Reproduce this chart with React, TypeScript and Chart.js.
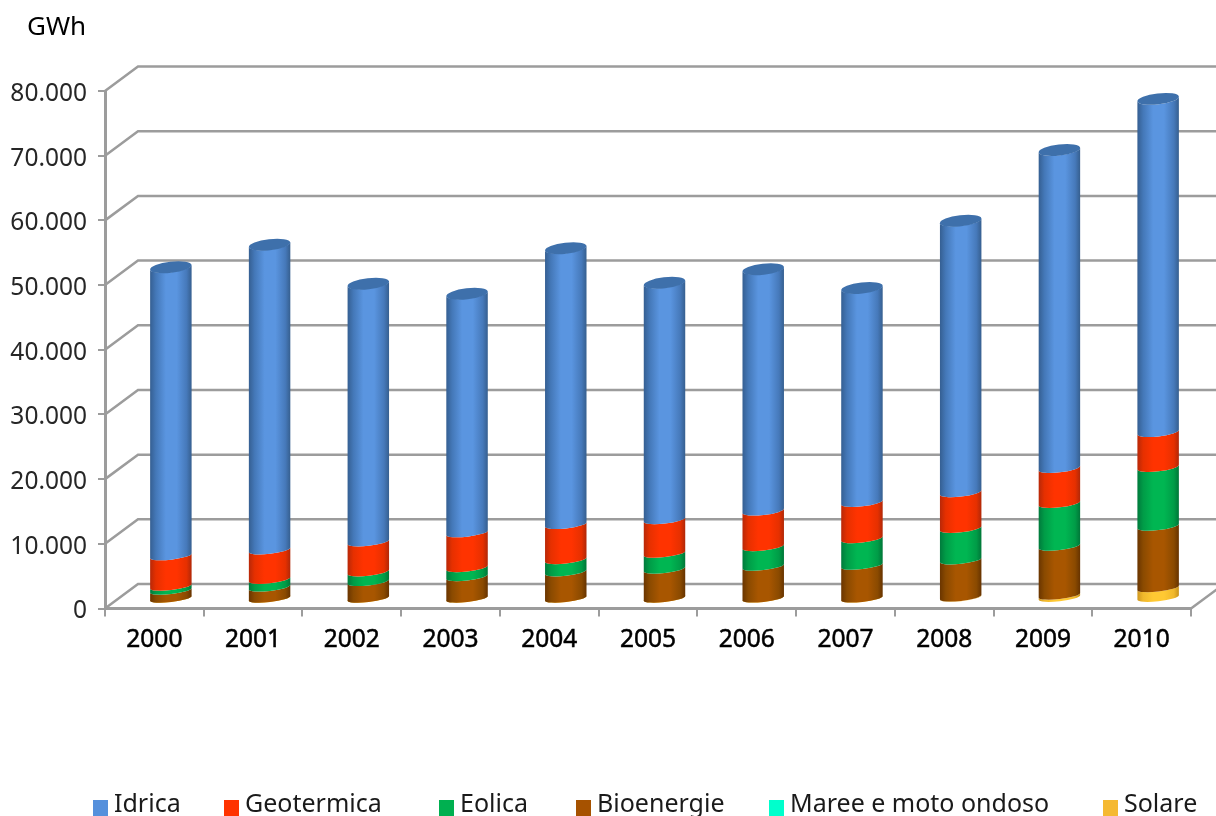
import React, { useEffect, useRef } from "react";
import { Chart, registerables } from "chart.js";

Chart.register(...registerables);

const years = ["2000", "2001", "2002", "2003", "2004", "2005", "2006", "2007", "2008", "2009", "2010"];
const idrica = [44600, 47190, 39890, 36940, 42710, 36590, 37370, 33130, 42000, 49190, 51530];
const geotermica = [4710, 4560, 4660, 5400, 5440, 5220, 5520, 5630, 5540, 5420, 5410];
const eolica = [620, 1190, 1500, 1390, 1900, 2460, 3030, 4110, 4900, 6640, 9120];
const bioenergie = [1250, 1730, 2580, 3340, 4070, 4500, 4940, 5090, 5750, 7580, 9530];
const maree = [0, 0, 0, 0, 0, 0, 0, 0, 0, 0, 0];
const solare = [20, 20, 20, 30, 30, 30, 40, 40, 200, 500, 1650];

const FONT = '"Noto Sans", sans-serif';
const GRID = "#9c9c9c";
const DEPTH_X = 33;
const DEPTH_Y = 24.5;
const BAR_SHIFT_X = 16.5;
const BAR_SHIFT_Y = 10;
const TILT = (6.5 * Math.PI) / 180;
const CAP_RY = 5.5;

// left edge, mid-left, light centre, mid-right, right edge
const shades: Record<string, string[]> = {
  Idrica: ["#355f92", "#4478b8", "#5a95e0", "#4679ba", "#365f8f"],
  Geotermica: ["#b82808", "#e63000", "#ff3300", "#e63000", "#b02808"],
  Eolica: ["#007a3c", "#009c47", "#00b652", "#009c47", "#007638"],
  Bioenergie: ["#6a3500", "#8a4a00", "#a85600", "#8a4a00", "#663300"],
  "Maree e moto ondoso": ["#00c09a", "#00e8ba", "#00ffcc", "#00e8ba", "#00b090"],
  Solare: ["#d09820", "#f0b82c", "#ffc933", "#f0b82c", "#c8921c"],
};
const topCap = "#3e70ab";

const legendX = [93, 224, 439, 576, 769, 1103];

// the cylinders show more of their ellipse the higher they stand
const ellipseHeight = (py: number) => 3.7 + (1.8 * Math.max(0, 598 - py)) / 500;

const scene = {
  id: "scene",
  beforeDatasetsDraw(chart: any) {
    const { ctx, chartArea, scales } = chart;
    const { left, right } = chartArea;
    const y = scales.y;
    ctx.save();
    ctx.strokeStyle = GRID;
    ctx.lineWidth = 2.5;
    (y.ticks as any[]).forEach((t) => {
      const py = y.getPixelForValue(t.value);
      ctx.beginPath();
      ctx.moveTo(left, py);
      ctx.lineTo(left + DEPTH_X, py - DEPTH_Y);
      ctx.lineTo(right + 30, py - DEPTH_Y);
      ctx.stroke();
    });
    const py0 = y.getPixelForValue(0);
    ctx.beginPath();
    ctx.moveTo(right, py0);
    ctx.lineTo(right + DEPTH_X, py0 - DEPTH_Y);
    ctx.stroke();
    ctx.restore();

    const metas = chart.getSortedVisibleDatasetMetas();
    const rx = (w: number) => w / 2 / Math.cos(TILT);
    metas.forEach((meta: any) => {
      const name = chart.data.datasets[meta.index].label as string;
      const c = shades[name];
      meta.data.forEach((el: any) => {
        const { x, y: top, base, width } = el.getProps(["x", "y", "base", "width"], true);
        if (Math.abs(base - top) < 0.01) return;
        const cx = x + BAR_SHIFT_X;
        const yt = top - BAR_SHIFT_Y;
        const yb = base - BAR_SHIFT_Y;
        const r = rx(width);
        const g = ctx.createLinearGradient(cx - width / 2, 0, cx + width / 2, 0);
        g.addColorStop(0, c[0]);
        g.addColorStop(0.14, c[1]);
        g.addColorStop(0.38, c[2]);
        g.addColorStop(0.64, c[2]);
        g.addColorStop(0.88, c[3]);
        g.addColorStop(1, c[4]);
        ctx.save();
        ctx.fillStyle = g;
        ctx.beginPath();
        ctx.ellipse(cx, yt, r, ellipseHeight(yt), -TILT, Math.PI, 0, true);
        ctx.ellipse(cx, yb, r, ellipseHeight(yb), -TILT, 0, Math.PI, false);
        ctx.closePath();
        ctx.fill();
        ctx.restore();
      });
    });
    // top cap of the uppermost series
    const last = metas[metas.length - 1];
    last.data.forEach((el: any) => {
      const { x, y: top, width } = el.getProps(["x", "y", "width"], true);
      const yt = top - BAR_SHIFT_Y;
      ctx.save();
      ctx.fillStyle = topCap;
      ctx.beginPath();
      ctx.ellipse(x + BAR_SHIFT_X, yt, rx(width), CAP_RY, -TILT, 0, Math.PI * 2);
      ctx.fill();
      ctx.restore();
    });
    return false;
  },
  afterDraw(chart: any) {
    const { ctx } = chart;
    ctx.save();
    ctx.textBaseline = "alphabetic";
    ctx.textAlign = "left";
    ctx.fillStyle = "#000";
    ctx.font = `26px ${FONT}`;
    ctx.fillText("GWh", 27, 35);
    const items = [...chart.data.datasets].reverse();
    items.forEach((ds: any, i: number) => {
      ctx.fillStyle = ds.backgroundColor;
      ctx.fillRect(legendX[i], 800, 15, 16);
      ctx.fillStyle = "#1a1a1a";
      ctx.font = `25px ${FONT}`;
      ctx.fillText(ds.label, legendX[i] + 21, 812);
    });
    ctx.restore();
  },
};

export default function App() {
  const ref = useRef<HTMLCanvasElement>(null);
  useEffect(() => {
    document.body.style.margin = "0";
    const chart = new Chart(ref.current!, {
      type: "bar",
      data: {
        labels: years,
        datasets: [
          { label: "Solare", data: solare, backgroundColor: "#f5b932" },
          { label: "Maree e moto ondoso", data: maree, backgroundColor: "#00ffcc" },
          { label: "Bioenergie", data: bioenergie, backgroundColor: "#a65200" },
          { label: "Eolica", data: eolica, backgroundColor: "#00b050" },
          { label: "Geotermica", data: geotermica, backgroundColor: "#ff3300" },
          { label: "Idrica", data: idrica, backgroundColor: "#5590dc" },
        ],
      },
      options: {
        responsive: false,
        animation: false,
        layout: { padding: { top: 91, right: 25, bottom: 0, left: 0 } },
        plugins: { legend: { display: false }, tooltip: { enabled: false } },
        datasets: { bar: { categoryPercentage: 1, barPercentage: 0.42 } },
        scales: {
          x: {
            stacked: true,
            afterFit: (s: any) => { s.height = 207.5; },
            grid: { drawOnChartArea: false, tickLength: 8, color: GRID, lineWidth: 2 },
            border: { color: GRID, width: 3 },
            ticks: {
              color: "#000",
              textStrokeColor: "#000",
              textStrokeWidth: 0.5,
              font: { family: FONT, size: 24.5 },
              padding: 9,
              maxRotation: 0,
              autoSkip: false,
            },
          },
          y: {
            stacked: true,
            min: 0,
            max: 80000,
            afterFit: (s: any) => { s.width = 105; },
            grid: { drawOnChartArea: false, tickLength: 7, color: GRID, lineWidth: 2 },
            border: { color: GRID, width: 3 },
            ticks: {
              stepSize: 10000,
              color: "#262626",
              font: { family: FONT, size: 24.5 },
              padding: 11,
              labelOffset: 3,
              callback: (v: any) => (v === 0 ? "0" : `${v / 1000}.000`),
            },
          },
        },
      },
      plugins: [scene],
    } as any);
    return () => chart.destroy();
  }, []);
  return <canvas ref={ref} width={1216} height={816} style={{ display: "block" }} />;
}
